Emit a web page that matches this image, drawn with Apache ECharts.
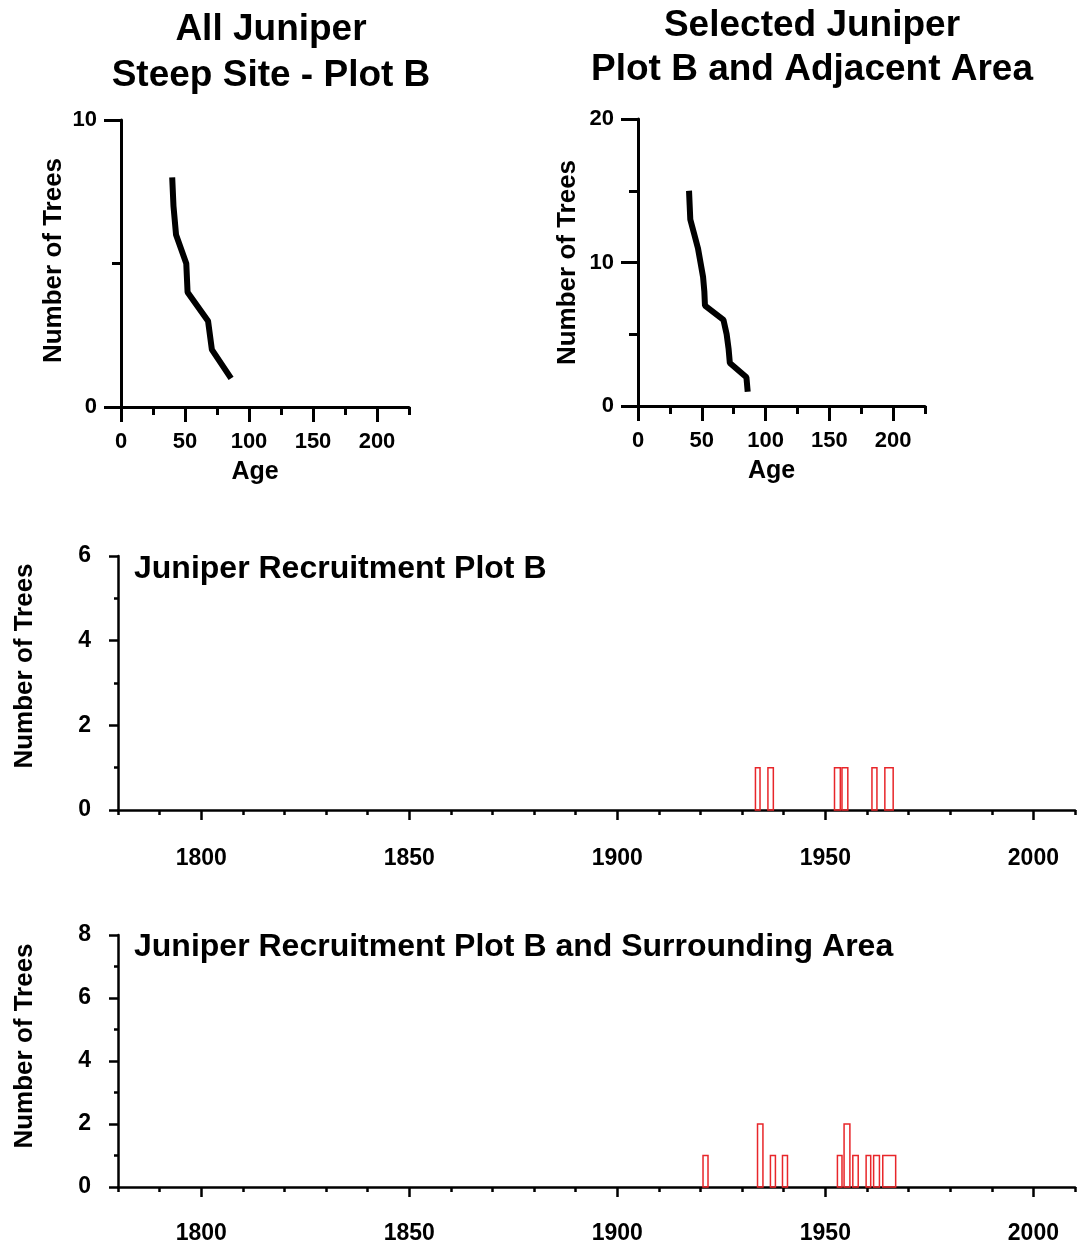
<!DOCTYPE html>
<html>
<head>
<meta charset="utf-8">
<title>Juniper age and recruitment</title>
<script src="https://cdn.jsdelivr.net/npm/echarts@6/dist/echarts.min.js"></script>
<style>
  html, body { margin: 0; padding: 0; background: #fff; }
  #main { width: 1082px; height: 1247px; }
</style>
</head>
<body>
<div id="main"></div>
<script>
// age curves (number of trees older than given age)
var allAge = [40, 41, 43, 51, 52, 68, 71, 86];
var allTrees = [8, 7, 6, 5, 4, 3, 2, 1];
var selAge = [40, 40.5, 41, 44, 47, 49, 51, 52, 52.5, 67, 69.5, 71, 72, 85, 86];
var selTrees = [15, 14, 13, 12, 11, 10, 9, 8, 7, 6, 5, 4, 3, 2, 1];

// recruitment bins: start year, end year, number of trees
var plotBStart = [1933.2, 1936.2, 1952.2, 1954.0, 1961.2, 1964.3];
var plotBEnd = [1934.3, 1937.5, 1953.6, 1955.4, 1962.4, 1966.3];
var plotBCount = [1, 1, 1, 1, 1, 1];
var areaStart = [1920.6, 1933.7, 1936.8, 1939.7, 1952.9, 1954.5, 1956.6, 1959.8, 1961.6, 1963.8];
var areaEnd = [1921.8, 1935.0, 1938.0, 1940.9, 1954.0, 1955.9, 1957.9, 1960.9, 1963.0, 1966.9];
var areaCount = [1, 2, 1, 1, 1, 2, 1, 1, 1, 1];

// tick labels
var ageTicks = [0, 50, 100, 150, 200];
var yearTicks = [1800, 1850, 1900, 1950, 2000];

var FONT = "'Liberation Sans', Arial, Helvetica, sans-serif";

function zip2 (a, b) {
  var out = [];
  for (var i = 0; i < a.length; i++) {
    out.push([a[i], b[i]]);
  }
  return out;
}

function zip3 (a, b, c) {
  var out = [];
  for (var i = 0; i < a.length; i++) {
    out.push([a[i], b[i], c[i]]);
  }
  return out;
}

// 主轴：长刻度 + 标签
function mainX (grid, min, max, ticks, tickLen, margin, lineW, fontSize, name) {
  return {
    type: 'value', gridIndex: grid, min: min, max: max, position: 'bottom',
    splitLine: { show: false },
    axisLine: { onZero: false, lineStyle: { color: '#000', width: lineW } },
    axisTick: { customValues: ticks, length: tickLen, lineStyle: { color: '#000', width: lineW } },
    axisLabel: {
      customValues: ticks, margin: margin, color: '#000', fontSize: fontSize, fontWeight: 'bold', fontFamily: FONT,
      formatter: function (v) { return String(v); }
    },
    name: name || '',
    nameLocation: 'middle',
    nameGap: 53,
    nameTextStyle: { color: '#000', fontSize: 25, fontWeight: 'bold', fontFamily: FONT, padding: [0, 20, 0, 0] }
  };
}

// 副轴：只画短刻度
function minorX (grid, min, max, interval, tickLen, lineW) {
  return {
    type: 'value', gridIndex: grid, min: min, max: max, interval: interval, position: 'bottom',
    splitLine: { show: false },
    axisLine: { show: false, onZero: false },
    axisTick: { length: tickLen, lineStyle: { color: '#000', width: lineW } },
    axisLabel: { show: false }
  };
}

function yAxisOf (grid, max, interval, tickLen, minorLen, margin, lineW, fontSize, nameGap, nameShift) {
  return {
    type: 'value', gridIndex: grid, min: 0, max: max, interval: interval,
    splitLine: { show: false },
    axisLine: { onZero: false, lineStyle: { color: '#000', width: lineW } },
    axisTick: { length: tickLen, lineStyle: { color: '#000', width: lineW } },
    minorTick: { show: true, splitNumber: 2, length: minorLen, lineStyle: { color: '#000', width: lineW } },
    minorSplitLine: { show: false },
    axisLabel: { margin: margin, color: '#000', fontSize: fontSize, fontWeight: 'bold', fontFamily: FONT },
    name: 'Number of Trees',
    nameLocation: 'middle',
    nameGap: nameGap,
    nameTextStyle: { color: '#000', fontSize: 26, fontWeight: 'bold', fontFamily: FONT, padding: [0, 0, 0, nameShift] }
  };
}

function renderBin (params, api) {
  var lo = api.coord([api.value(0), 0]);
  var hi = api.coord([api.value(1), api.value(2)]);
  return {
    type: 'rect',
    shape: { x: lo[0], y: hi[1], width: hi[0] - lo[0], height: lo[1] - hi[1] },
    style: { fill: 'none', stroke: '#e8262a', lineWidth: 1.5 }
  };
}

var titleStyle = { color: '#000', fontSize: 37, fontWeight: 'bold', fontFamily: FONT, lineHeight: 46 };
var subTitleStyle = { color: '#000', fontSize: 32, fontWeight: 'bold', fontFamily: FONT, lineHeight: 32 };

var myChart = echarts.init(document.getElementById('main'), null, { renderer: 'canvas' });

var option = {
  backgroundColor: '#fff',
  animation: false,
  title: [
    { text: 'All Juniper\nSteep Site - Plot B', left: 271, top: 7, textAlign: 'center', padding: 0, textStyle: titleStyle },
    { text: 'Selected Juniper\nPlot B and Adjacent Area', left: 812, top: 4, textAlign: 'center', padding: 0, textStyle: { color: '#000', fontSize: 37, fontWeight: 'bold', fontFamily: FONT, lineHeight: 44 } },
    { text: 'Juniper Recruitment Plot B', left: 134, top: 553, padding: 0, textStyle: subTitleStyle },
    { text: 'Juniper Recruitment Plot B and Surrounding Area', left: 134, top: 931, padding: 0, textStyle: subTitleStyle }
  ],
  grid: [
    { left: 121, top: 120, width: 288, height: 287 },
    { left: 638, top: 119, width: 287, height: 287 },
    { left: 118, top: 556, width: 957, height: 254 },
    { left: 118, top: 935, width: 957, height: 252 }
  ],
  xAxis: [
    mainX(0, 0, 225, ageTicks, 15, 24, 3, 22, 'Age'),
    minorX(0, 0, 225, 25, 8, 3),
    mainX(1, 0, 225, ageTicks, 15, 24, 3, 22, 'Age'),
    minorX(1, 0, 225, 25, 8, 3),
    mainX(2, 1780, 2010, yearTicks, 10, 37, 2.5, 23),
    minorX(2, 1780, 2010, 10, 5, 2.5),
    mainX(3, 1780, 2010, yearTicks, 10, 35, 2.5, 23),
    minorX(3, 1780, 2010, 10, 5, 2.5)
  ],
  yAxis: [
    yAxisOf(0, 10, 10, 17, 9, 24, 3, 22, 54, 6),
    yAxisOf(1, 20, 10, 17, 9, 24, 3, 22, 57, 0),
    yAxisOf(2, 6, 2, 9, 4, 27, 2.5, 23, 80, 34),
    yAxisOf(3, 8, 2, 9, 4, 27, 2.5, 23, 80, 30)
  ],
  series: [
    {
      name: 'All Juniper', type: 'line', xAxisIndex: 0, yAxisIndex: 0,
      data: zip2(allAge, allTrees), showSymbol: false,
      lineStyle: { color: '#000', width: 6 }
    },
    {
      name: 'Selected Juniper', type: 'line', xAxisIndex: 2, yAxisIndex: 1,
      data: zip2(selAge, selTrees), showSymbol: false,
      lineStyle: { color: '#000', width: 6 }
    },
    {
      name: 'Plot B', type: 'custom', xAxisIndex: 4, yAxisIndex: 2,
      renderItem: renderBin, encode: { x: [0, 1], y: 2 },
      data: zip3(plotBStart, plotBEnd, plotBCount)
    },
    {
      name: 'Plot B and Surrounding Area', type: 'custom', xAxisIndex: 6, yAxisIndex: 3,
      renderItem: renderBin, encode: { x: [0, 1], y: 2 },
      data: zip3(areaStart, areaEnd, areaCount)
    }
  ]
};

if (option && typeof option == "object") {
  myChart.setOption(option, true);
}
</script>
</body>
</html>
